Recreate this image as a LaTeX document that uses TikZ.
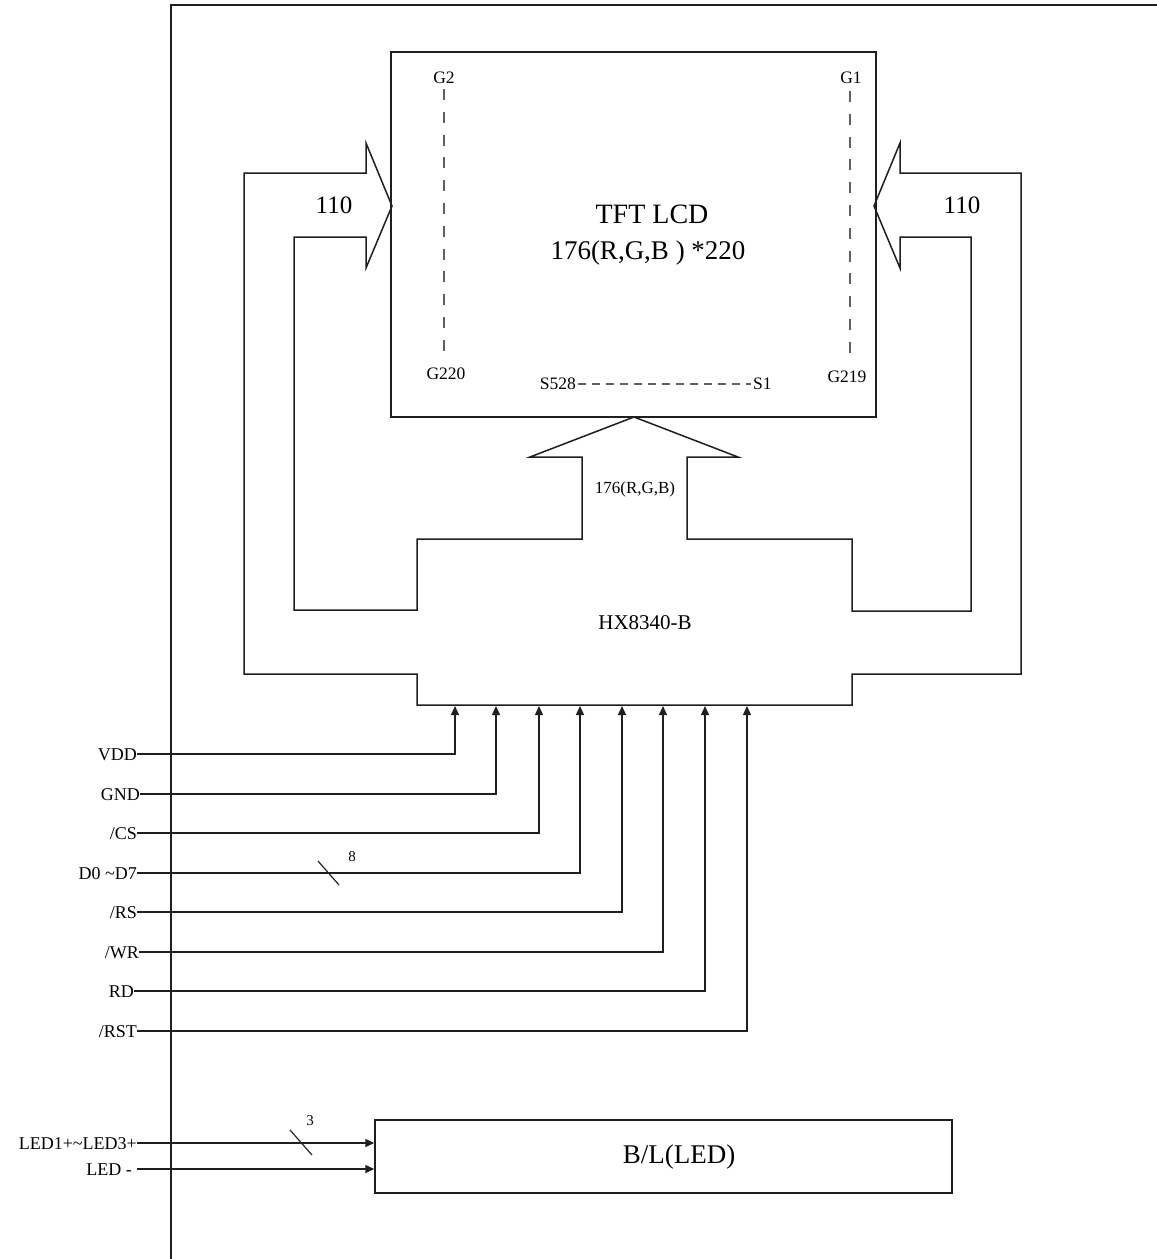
\documentclass[tikz,border=0pt]{standalone}
\usepackage{fontspec}
\setmainfont{Liberation Serif}
\usetikzlibrary{arrows.meta}
\newcommand{\tld}{{\char"7E}}
\tikzset{
  ln/.style={line width=1.5pt, draw=black!88},
  dsh/.style={line width=1.5pt, draw=black!62},
  lbl/.style={inner sep=0pt, font=\fontsize{18}{18}\selectfont, text height=12.5pt, text depth=0pt},
  glbl/.style={inner sep=0pt, font=\fontsize{17.5}{17.5}\selectfont},
  sig/.style={ln, -{Triangle[length=9pt,width=8pt]}},
  bus/.style={line width=1.2pt, draw=black!85},
  busn/.style={inner sep=0pt, font=\fontsize{15}{15}\selectfont},
}
\begin{document}
\begin{tikzpicture}[x=1pt,y=-1pt]
\useasboundingbox (0,0) rectangle (1157,1259);
\fill[white] (0,0) rectangle (1157,1259);
% frame
\draw[ln] (171,1259) -- (171,5) -- (1157,5);
% LCD
\node[ln, minimum width=485pt, minimum height=365pt, inner sep=0pt] (lcd) at (633.5,234.5) {};
\node[inner sep=0pt, font=\fontsize{28}{28}\selectfont] (tft) at (652,214) {TFT LCD};
\node[inner sep=0pt, font=\fontsize{27}{27}\selectfont] (res) at (648,253) {176(R,G,B ) *220};
\node[glbl] (g2) at (444,78) {G2};
\node[glbl] (g1) at (851,78) {G1};
\node[glbl] (g220) at (446,374) {G220};
\node[glbl] (g219) at (847,377) {G219};
\node[glbl, anchor=east] (s528) at (576,384) {S528};
\node[glbl, anchor=west] (s1) at (753,384) {S1};
\draw[dsh, dash pattern=on 11pt off 11.8pt] (g2.south) ++(0,5) -- ++(0,262);
\draw[dsh, dash pattern=on 11pt off 11.8pt] ([xshift=-1pt]g1.south) ++(0,7) -- ++(0,262);
\draw[dsh, dash pattern=on 8pt off 6pt] ([xshift=2pt]s528.east) -- ([xshift=-2pt]s1.west);
% driver outline with bus arrows
\draw[ln, line join=miter]
  (244,674) -- (244,173) -- (366,173) -- (366,143) -- (392,206) -- (366,268) -- (366,237)
  -- (294,237) -- (294,610) -- (417,610) -- (417,539) -- (582,539) -- (582,457) -- (530,457)
  -- (634,417) -- (738,457) -- (687,457) -- (687,539) -- (852,539) -- (852,611) -- (971,611)
  -- (971,237) -- (900,237) -- (900,268) -- (874,206) -- (900,143) -- (900,173) -- (1021,173)
  -- (1021,674) -- (852,674) -- (852,705) -- (417,705) -- (417,674) -- cycle;
\node[inner sep=0pt, font=\fontsize{25}{25}\selectfont] (n110l) at (334,205) {110};
\node[inner sep=0pt, font=\fontsize{25}{25}\selectfont] (n110r) at (962,205) {110};
\node[inner sep=0pt, font=\fontsize{17}{17}\selectfont] (rgb) at (635,489) {176(R,G,B)};
\node[inner sep=0pt, font=\fontsize{21}{21}\selectfont] (hx) at (645,623) {HX8340-B};
% input pins on driver bottom
\foreach \n/\x in {1/455,2/496,3/539,4/580,5/622,6/663,7/705,8/747}
  \coordinate (p\n) at (\x,706);
% signal labels
\node[lbl, anchor=east] (vdd) at (137,754) {VDD};
\node[lbl, anchor=east] (gnd) at (140,794) {GND};
\node[lbl, anchor=east] (cs) at (137,833) {/CS};
\node[lbl, anchor=east] (dat) at (137,873) {D0 \tld D7};
\node[lbl, anchor=east] (rs) at (137,912) {/RS};
\node[lbl, anchor=east] (wr) at (139,952) {/WR};
\node[lbl, anchor=east] (rd) at (134,991) {RD};
\node[lbl, anchor=east] (rst) at (137,1031) {/RST};
\draw[sig] (vdd.east) -| (p1);
\draw[sig] (gnd.east) -| (p2);
\draw[sig] (cs.east) -| (p3);
\draw[sig] (dat.east) -| (p4);
\draw[sig] (rs.east) -| (p5);
\draw[sig] (wr.east) -| (p6);
\draw[sig] (rd.east) -| (p7);
\draw[sig] (rst.east) -| (p8);
\draw[bus] (318,861) -- (339,885);
\node[busn] (n8) at (352,857) {8};
% backlight
\node[ln, minimum width=577pt, minimum height=73pt, inner sep=0pt] (bl) at (663.5,1156.5) {};
\node[inner sep=0pt, font=\fontsize{27}{27}\selectfont] (bltxt) at (679,1157) {B/L(LED)};
\node[lbl, anchor=east] (ledp) at (137,1143) {LED1+\tld LED3+};
\node[lbl, anchor=east] (ledm) at (132,1169) {LED -};
\draw[sig] (ledp.east) -- (ledp.east -| bl.west);
\draw[sig] ([xshift=5pt]ledm.east) -- (ledm.east -| bl.west);
\draw[bus] (290,1130) -- (312,1155);
\node[busn] (n3) at (310,1121) {3};
\end{tikzpicture}
\end{document}
